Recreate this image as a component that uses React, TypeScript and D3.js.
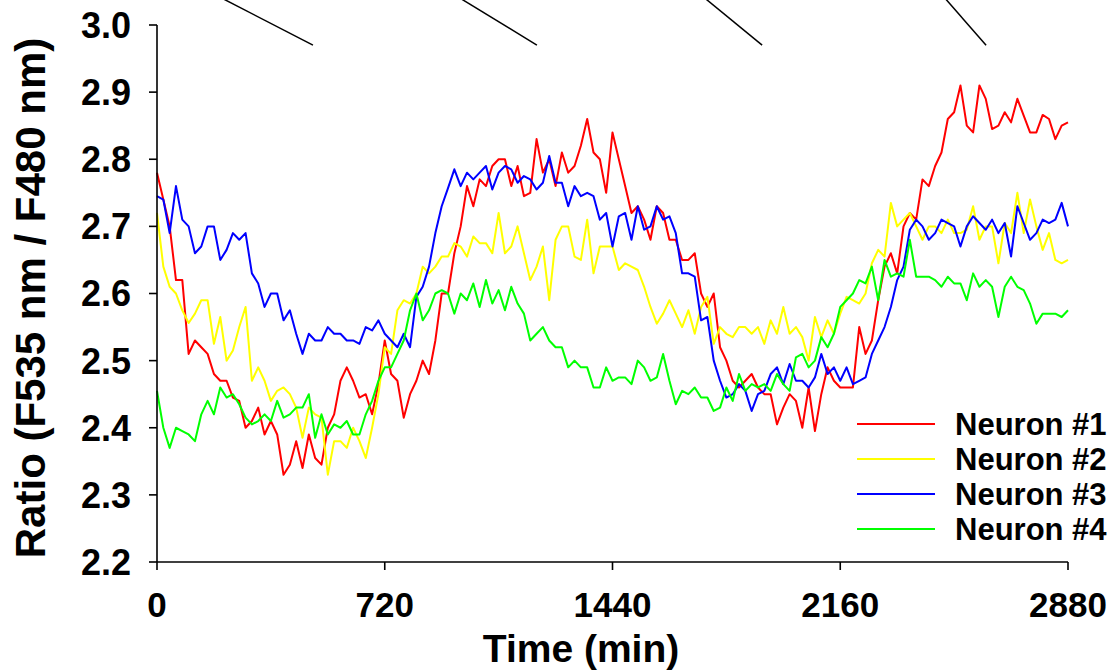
import * as d3 from 'd3';
import React, { useEffect } from 'react';

// time axis: samples every 20 min, 0..2880
const STEP = 20;
const times = d3.range(0, 2881, STEP);

const neuron1 = [
  2.78, 2.74, 2.70, 2.62, 2.62, 2.51, 2.53, 2.52, 2.51, 2.48,
  2.47, 2.47, 2.445, 2.44, 2.40, 2.41, 2.43, 2.39, 2.41, 2.39,
  2.33, 2.345, 2.38, 2.34, 2.39, 2.355, 2.345, 2.40, 2.42, 2.47,
  2.49, 2.47, 2.445, 2.45, 2.42, 2.465, 2.53, 2.48, 2.47, 2.415,
  2.45, 2.47, 2.50, 2.48, 2.53, 2.60, 2.60, 2.66, 2.70, 2.76,
  2.73, 2.77, 2.76, 2.79, 2.80, 2.80, 2.76, 2.79, 2.745, 2.75,
  2.83, 2.78, 2.80, 2.76, 2.81, 2.78, 2.79, 2.82, 2.86, 2.81,
  2.80, 2.75, 2.84, 2.80, 2.76, 2.72, 2.73, 2.71, 2.68, 2.73,
  2.72, 2.68, 2.68, 2.65, 2.65, 2.66, 2.60, 2.58, 2.60, 2.52,
  2.50, 2.47, 2.46, 2.47, 2.48, 2.46, 2.45, 2.45, 2.405, 2.43,
  2.45, 2.44, 2.40, 2.46, 2.395, 2.45, 2.49, 2.47, 2.46, 2.46,
  2.46, 2.55, 2.51, 2.53, 2.59, 2.64, 2.66, 2.63, 2.70, 2.72,
  2.71, 2.77, 2.76, 2.79, 2.81, 2.86, 2.87, 2.91, 2.85, 2.84,
  2.91, 2.89, 2.845, 2.85, 2.87, 2.855, 2.89, 2.865, 2.84, 2.84,
  2.866, 2.86, 2.83, 2.85, 2.855,
];

const neuron2 = [
  2.72, 2.64, 2.61, 2.60, 2.575, 2.556, 2.57, 2.59, 2.59, 2.525,
  2.565, 2.50, 2.515, 2.55, 2.58, 2.47, 2.49, 2.47, 2.44, 2.455,
  2.46, 2.45, 2.43, 2.385, 2.43, 2.42, 2.415, 2.33, 2.38, 2.38,
  2.37, 2.40, 2.38, 2.355, 2.40, 2.45, 2.52, 2.51, 2.575, 2.59,
  2.585, 2.60, 2.64, 2.63, 2.64, 2.655, 2.655, 2.675, 2.67, 2.655,
  2.685, 2.675, 2.675, 2.66, 2.72, 2.66, 2.67, 2.70, 2.66, 2.62,
  2.64, 2.67, 2.59, 2.68, 2.70, 2.70, 2.655, 2.65, 2.71, 2.63,
  2.67, 2.67, 2.67, 2.635, 2.645, 2.64, 2.635, 2.61, 2.58, 2.555,
  2.57, 2.59, 2.57, 2.55, 2.575, 2.54, 2.58, 2.595, 2.525, 2.55,
  2.54, 2.535, 2.55, 2.55, 2.54, 2.55, 2.525, 2.56, 2.54, 2.58,
  2.54, 2.55, 2.535, 2.50, 2.565, 2.535, 2.56, 2.54, 2.57, 2.595,
  2.59, 2.585, 2.60, 2.645, 2.665, 2.655, 2.735, 2.70, 2.71, 2.72,
  2.70, 2.68, 2.70, 2.70, 2.69, 2.71, 2.69, 2.69, 2.695, 2.73,
  2.68, 2.70, 2.70, 2.645, 2.705, 2.69, 2.75, 2.69, 2.74, 2.70,
  2.665, 2.69, 2.65, 2.645, 2.65,
];

const neuron3 = [
  2.745, 2.74, 2.69, 2.76, 2.71, 2.70, 2.66, 2.67, 2.70, 2.70,
  2.65, 2.665, 2.69, 2.68, 2.69, 2.63, 2.615, 2.58, 2.60, 2.60,
  2.56, 2.575, 2.54, 2.51, 2.54, 2.53, 2.53, 2.55, 2.54, 2.54,
  2.53, 2.53, 2.525, 2.55, 2.545, 2.56, 2.54, 2.53, 2.52, 2.54,
  2.52, 2.595, 2.61, 2.64, 2.69, 2.73, 2.757, 2.785, 2.76, 2.78,
  2.77, 2.78, 2.79, 2.755, 2.78, 2.79, 2.785, 2.765, 2.775, 2.77,
  2.755, 2.765, 2.805, 2.765, 2.765, 2.73, 2.76, 2.745, 2.75, 2.745,
  2.71, 2.72, 2.67, 2.715, 2.72, 2.68, 2.73, 2.695, 2.70, 2.73,
  2.71, 2.715, 2.69, 2.63, 2.63, 2.625, 2.56, 2.565, 2.50, 2.47,
  2.445, 2.45, 2.465, 2.455, 2.425, 2.45, 2.455, 2.48, 2.49, 2.465,
  2.495, 2.47, 2.47, 2.46, 2.475, 2.51, 2.48, 2.49, 2.47, 2.49,
  2.465, 2.47, 2.475, 2.51, 2.53, 2.55, 2.58, 2.62, 2.64, 2.695,
  2.71, 2.70, 2.68, 2.69, 2.71, 2.705, 2.70, 2.67, 2.70, 2.715,
  2.705, 2.695, 2.71, 2.69, 2.705, 2.655, 2.73, 2.705, 2.68, 2.69,
  2.71, 2.705, 2.71, 2.735, 2.70,
];

const neuron4 = [
  2.455, 2.40, 2.37, 2.40, 2.395, 2.39, 2.38, 2.42, 2.44, 2.42,
  2.46, 2.445, 2.45, 2.435, 2.415, 2.405, 2.41, 2.42, 2.41, 2.44,
  2.415, 2.42, 2.43, 2.43, 2.45, 2.385, 2.42, 2.39, 2.405, 2.40,
  2.41, 2.39, 2.39, 2.42, 2.44, 2.47, 2.49, 2.49, 2.51, 2.53,
  2.575, 2.60, 2.56, 2.575, 2.60, 2.605, 2.60, 2.57, 2.60, 2.59,
  2.615, 2.58, 2.62, 2.585, 2.605, 2.575, 2.61, 2.585, 2.57, 2.53,
  2.54, 2.55, 2.53, 2.52, 2.52, 2.49, 2.50, 2.49, 2.49, 2.46,
  2.46, 2.49, 2.47, 2.475, 2.475, 2.465, 2.50, 2.49, 2.47, 2.475,
  2.51, 2.47, 2.435, 2.455, 2.45, 2.46, 2.445, 2.445, 2.425, 2.43,
  2.46, 2.44, 2.48, 2.455, 2.465, 2.46, 2.465, 2.455, 2.48, 2.465,
  2.455, 2.505, 2.51, 2.49, 2.50, 2.535, 2.52, 2.54, 2.58, 2.59,
  2.60, 2.62, 2.615, 2.64, 2.59, 2.65, 2.625, 2.63, 2.625, 2.68,
  2.625, 2.625, 2.625, 2.62, 2.61, 2.625, 2.615, 2.615, 2.59, 2.63,
  2.61, 2.62, 2.61, 2.565, 2.61, 2.625, 2.61, 2.605, 2.585, 2.555,
  2.57, 2.57, 2.57, 2.565, 2.575,
];

const seriesNames = ['Neuron #1', 'Neuron #2', 'Neuron #3', 'Neuron #4'];
const seriesColors = ['#ff0000', '#ffff00', '#0000ff', '#00ff00'];
const seriesValues = [neuron1, neuron2, neuron3, neuron4];

const xTicks = [0, 720, 1440, 2160, 2880];
const yTicks = [2.2, 2.3, 2.4, 2.5, 2.6, 2.7, 2.8, 2.9, 3.0];

// diagonal marks along the top edge, in data units [t0, v0, t1, v1]
const topMarks = [
  [205, 3.04, 493, 2.97],
  [958, 3.04, 1201, 2.97],
  [1732, 3.04, 1913, 2.97],
  [2491, 3.04, 2621, 2.97],
];

const FONT = '"Liberation Sans", Arial, Helvetica, sans-serif';

export default function App() {
  useEffect(() => {
    document.body.style.margin = '0';
  }, []);

  const width = 1111,
    height = 672;

  const x = d3.scaleLinear().domain([0, 2880]).range([157, 1068]);
  const y = d3.scaleLinear().domain([2.2, 3.0]).range([562, 25]);

  const line = d3
    .line<number>()
    .x((d, i) => x(times[i]))
    .y((d) => y(d));

  const legendY = d3.scaleLinear().domain([0, 3]).range([424, 529]);

  return (
    <svg width={width} height={height} style={{ display: 'block', background: '#fff' }}>
      {/* top marks */}
      {topMarks.map((m, i) => (
        <line
          key={'m' + i}
          x1={x(m[0])}
          y1={y(m[1])}
          x2={x(m[2])}
          y2={y(m[3])}
          stroke="#000"
          strokeWidth={1.5}
        />
      ))}

      {/* series */}
      {seriesValues.map((vals, i) => (
        <path
          key={seriesNames[i]}
          d={line(vals) || ''}
          fill="none"
          stroke={seriesColors[i]}
          strokeWidth={2}
          strokeLinejoin="round"
        />
      ))}

      {/* y axis */}
      <line x1={x(0)} x2={x(0)} y1={y(3.0)} y2={y(2.2)} stroke="#000" strokeWidth={1.6} />
      {yTicks.map((t) => (
        <g key={'y' + t}>
          <line x1={x(0) - 8} x2={x(0)} y1={y(t)} y2={y(t)} stroke="#000" strokeWidth={1.6} />
          <text
            x={131}
            y={y(t)}
            dy="0.36em"
            textAnchor="end"
            fontFamily={FONT}
            fontWeight="bold"
            fontSize={36}
          >
            {t.toFixed(1)}
          </text>
        </g>
      ))}

      {/* x axis */}
      <line x1={x(0)} x2={x(2880)} y1={y(2.2)} y2={y(2.2)} stroke="#000" strokeWidth={1.6} />
      {xTicks.map((t) => (
        <g key={'x' + t}>
          <line x1={x(t)} x2={x(t)} y1={y(2.2)} y2={y(2.2) + 8} stroke="#000" strokeWidth={1.6} />
          <text
            x={x(t)}
            y={617}
            textAnchor="middle"
            fontFamily={FONT}
            fontWeight="bold"
            fontSize={35}
          >
            {t}
          </text>
        </g>
      ))}

      <text
        x={581}
        y={662}
        textAnchor="middle"
        fontFamily={FONT}
        fontWeight="bold"
        fontSize={39}
      >
        Time (min)
      </text>
      <text
        transform={`translate(45, 298) rotate(-90)`}
        textAnchor="middle"
        fontFamily={FONT}
        fontWeight="bold"
        fontSize={42}
      >
        Ratio (F535 nm / F480 nm)
      </text>

      {/* legend */}
      {seriesNames.map((name, i) => (
        <g key={'lg' + i}>
          <line
            x1={857}
            x2={935}
            y1={legendY(i)}
            y2={legendY(i)}
            stroke={seriesColors[i]}
            strokeWidth={2}
          />
          <text
            x={955}
            y={legendY(i)}
            dy="0.36em"
            fontFamily={FONT}
            fontWeight="bold"
            fontSize={31}
          >
            {name}
          </text>
        </g>
      ))}
    </svg>
  );
}
